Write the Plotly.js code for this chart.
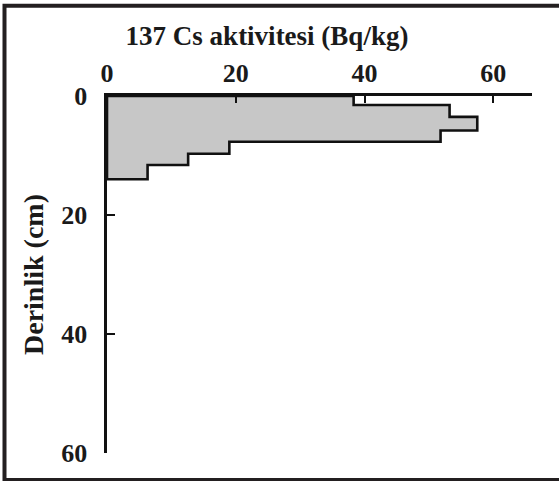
<!DOCTYPE html>
<html>
<head>
<meta charset="utf-8">
<script src="https://cdn.plot.ly/plotly-3.0.1.min.js"></script>
<style>html,body{margin:0;padding:0;background:#fff;}#chart{width:559px;height:481px;}</style>
</head>
<body>
<div id="chart"></div>
<script>
// Depth layer boundaries (cm) and 137Cs activity per layer (Bq/kg)
const depthTop    = [0, 1.5, 3.5, 5.8, 7.7, 9.7, 11.6];
const depthBottom = [1.5, 3.5, 5.8, 7.7, 9.7, 11.6, 14.0];
const activity    = [38.3, 53.2, 57.5, 51.8, 19.0, 12.6, 6.3];
const xTicks = [0, 20, 40, 60];
const yTicks = [0, 20, 40, 60];

// Build step-profile polygon from the data
const px = [0], py = [0];
for (let i = 0; i < activity.length; i++) {
  px.push(activity[i]); py.push(depthTop[i]);
  px.push(activity[i]); py.push(depthBottom[i]);
}
px.push(0); py.push(depthBottom[depthBottom.length - 1]);
px.push(0); py.push(0);

const W = 559, H = 481;
const M = {l: 107, r: 27, t: 95.5, b: 28};
const plotW = W - M.l - M.r, plotH = H - M.t - M.b;
const fx = p => (p - M.l) / plotW;
const fy = p => (H - M.b - p) / plotH;

const font = {family: '"Liberation Serif", "Times New Roman", serif', color: '#1a1a1a', weight: 'bold'};

const trace = {
  x: px, y: py, type: 'scatter', mode: 'lines',
  fill: 'toself', fillcolor: '#c7c7c7',
  line: {color: '#111', width: 2.6, shape: 'linear'},
  hoverinfo: 'skip', showlegend: false
};

const layout = {
  width: W, height: H,
  margin: M,
  paper_bgcolor: '#fff', plot_bgcolor: '#fff',
  showlegend: false,
  title: {
    text: '137 Cs aktivitesi (Bq/kg)',
    font: Object.assign({}, font, {size: 27}),
    xref: 'container', x: 267 / W, xanchor: 'center',
    yref: 'container', y: 1 - 36 / H, yanchor: 'middle'
  },
  xaxis: {
    side: 'top', range: [0, 66], fixedrange: true,
    showgrid: false, zeroline: false,
    showline: true, linecolor: '#111', linewidth: 2.6,
    ticks: 'inside', ticklen: 7, tickwidth: 2, tickcolor: '#111',
    tickvals: xTicks, ticktext: xTicks.map(String),
    tickfont: Object.assign({}, font, {size: 26}),
    ticklabelstandoff: 1
  },
  yaxis: {
    range: [60, 0], fixedrange: true,
    showgrid: false, zeroline: false,
    showline: true, linecolor: '#111', linewidth: 2.6,
    ticks: 'inside', ticklen: 8, tickwidth: 2, tickcolor: '#111',
    tickvals: yTicks, ticktext: yTicks.map(String),
    tickfont: Object.assign({}, font, {size: 26}),
    ticklabelstandoff: 12,
    title: {text: 'Derinlik (cm)', font: Object.assign({}, font, {size: 28}), standoff: 10}
  },
  shapes: [{
    type: 'rect', xref: 'paper', yref: 'paper',
    x0: fx(4.5), x1: fx(620), y0: fy(480), y1: fy(5),
    line: {color: '#231f20', width: 4}, fillcolor: 'rgba(0,0,0,0)', layer: 'above'
  }]
};

Plotly.newPlot('chart', [trace], layout, {staticPlot: true, displayModeBar: false});
</script>
</body>
</html>
